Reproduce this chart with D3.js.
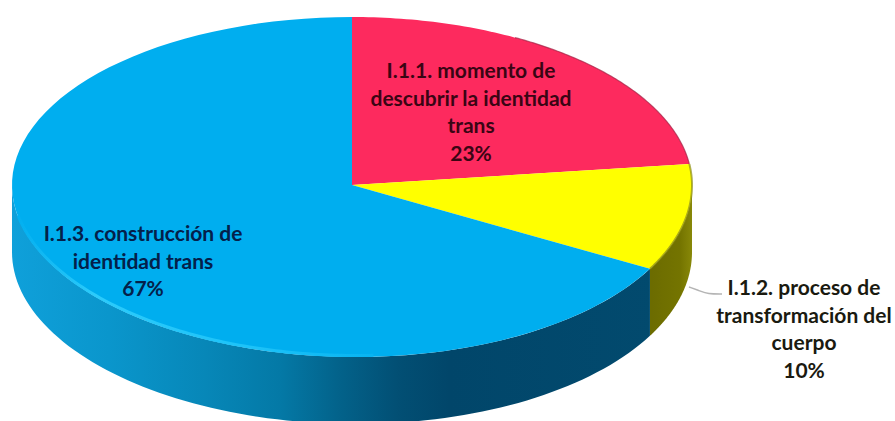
<!DOCTYPE html>
<html>
<head>
<meta charset="utf-8">
<script src="https://cdn.jsdelivr.net/npm/d3@7"></script>
<style>
html,body{margin:0;padding:0;background:#fff}
svg{display:block}
text{font-family:Lato,"Open Sans",sans-serif;font-weight:700;font-size:21px;text-anchor:middle}
</style>
</head>
<body>
<script>
// Share of each theme, clockwise from twelve o'clock
const categories = ["I.1.1. momento de descubrir la identidad trans", "I.1.2. proceso de transformación del cuerpo", "I.1.3. construcción de identidad trans"];
const values = [23, 10, 67];
const topColors = ["#fd2a5e", "#ffff00", "#00aeef"];
const labelLines = [
  ["I.1.1. momento de", "descubrir la identidad", "trans", "23%"],
  ["I.1.2. proceso de", "transformación del", "cuerpo", "10%"],
  ["I.1.3. construcción de", "identidad trans", "67%"]
];
const labelBaselines = [[471, 78], [804, 295], [143, 241]];
const labelColors = ["#3a0514", "#1a1a10", "#04204a"];

const width = 895, height = 421;
const cx = 352, cy = 185, rx = 340, depth = 67;

const svg = d3.select("body").append("svg").attr("width", width).attr("height", height);
const defs = svg.append("defs");

function gradient(id, x1, x2, stops) {
  const g = defs.append("linearGradient").attr("id", id)
    .attr("gradientUnits", "userSpaceOnUse")
    .attr("x1", x1).attr("x2", x2).attr("y1", 0).attr("y2", 0);
  stops.forEach(([o, c]) => g.append("stop").attr("offset", o).attr("stop-color", c));
}

// Shading of the drum wall, dark toward the lower right
gradient("blueWall", 12, 655, [[0, "#0fa0da"], [0.15, "#0a96cc"], [0.3, "#0787b8"], [0.417, "#0479a6"],
  [0.51, "#03628a"], [0.6, "#024f74"], [0.68, "#01466a"], [1, "#024a6e"]]);
gradient("yellowWall", 652, 692, [[0, "#6c6c00"], [0.7, "#747400"], [1, "#888808"]]);
gradient("blueRim", 14, 420, [[0, "#00aeef"], [0.2, "#2ccbfb"], [0.6, "#1cc2f8"], [1, "#00aeef"]]);

const slices = d3.pie().sort(null).value(d => d)(values);

// The near half of the drum sits slightly lower on the right: perspective of the tilted top
const verticalRadius = d3.scaleLinear().domain([Math.PI / 2, 3 * Math.PI / 2]).range([175, 169]).clamp(true);
const ryAt = a => (Math.cos(a) > 0 ? 168 : verticalRadius(a));

// Point on the rim at a clockwise angle from the top
const rim = (a, dy = 0) => [cx + rx * Math.sin(a), cy - ryAt(a) * Math.cos(a) + dy];

function rimRun(a0, a1, dy = 0) {
  const n = 90;
  return d3.range(n + 1).map(i => rim(a0 + (a1 - a0) * i / n, dy));
}

// Only the front half of the wall can be seen
const line = d3.line();
[[1, "url(#yellowWall)"], [2, "url(#blueWall)"]].forEach(([i, fill]) => {
  const a0 = Math.max(slices[i].startAngle, Math.PI / 2);
  const a1 = Math.min(slices[i].endAngle, 3 * Math.PI / 2);
  svg.append("path")
    .attr("d", line(rimRun(a0, a1).concat(rimRun(a1, a0, depth))) + "Z")
    .attr("fill", fill);
});

// Top face
svg.append("g").selectAll("path").data(slices).join("path")
  .attr("d", d => line([[cx, cy]].concat(rimRun(d.startAngle, d.endAngle))) + "Z")
  .attr("fill", (d, i) => topColors[i]);

// Bevelled edge around the top face
svg.append("path")
  .attr("d", line(rimRun(Math.PI * 0.98, Math.PI * 1.44, -1.5)))
  .attr("fill", "none").attr("stroke", "url(#blueRim)").attr("stroke-width", 3);
svg.append("path")
  .attr("d", line(rimRun(slices[1].startAngle, slices[1].endAngle)))
  .attr("fill", "none").attr("stroke", "#8d8d12").attr("stroke-width", 2).attr("opacity", 0.7);
svg.append("path")
  .attr("d", line(rimRun(slices[0].startAngle + 0.5, slices[0].endAngle)))
  .attr("fill", "none").attr("stroke", "#a32245").attr("stroke-width", 1.2).attr("opacity", 0.7);

// Leader for the label outside the drum
svg.append("path")
  .attr("d", d3.line().curve(d3.curveBasis)([[689, 287], [700, 291], [708, 294], [722, 294]]))
  .attr("fill", "none").attr("stroke", "#b4b4b4").attr("stroke-width", 1.5);

// Labels
const lineHeight = 27.7;
svg.append("g").selectAll("text").data(labelLines).join("text")
  .attr("fill", (d, i) => labelColors[i])
  .each(function (lines, i) {
    const [x, y] = labelBaselines[i];
    d3.select(this).selectAll("tspan").data(lines).join("tspan")
      .attr("x", x).attr("y", (d, j) => y + j * lineHeight).text(d => d);
  });
</script>
</body>
</html>
